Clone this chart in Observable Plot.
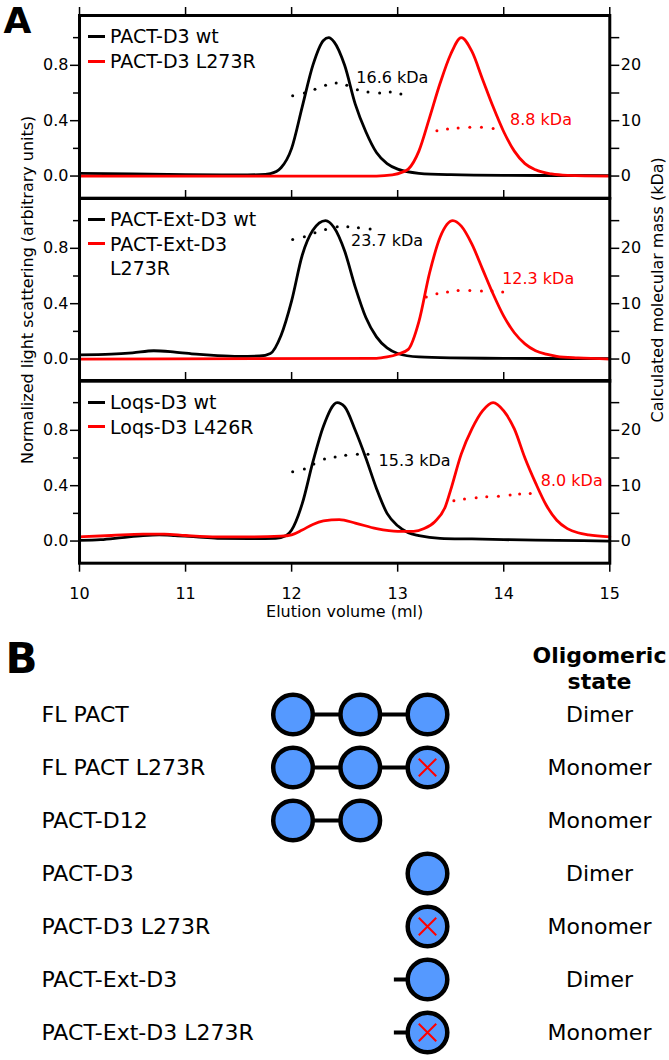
<!DOCTYPE html>
<html><head><meta charset="utf-8">
<script src="https://cdn.jsdelivr.net/npm/d3@7"></script>
<script src="https://cdn.jsdelivr.net/npm/@observablehq/plot@0.6"></script>
<style>
body{margin:0;background:#fff;}
#fig{position:relative;width:669px;height:1060px;overflow:hidden;font-family:"DejaVu Sans",sans-serif;background:#fff;}
#fig svg{position:absolute;left:0;}
.legend{position:absolute;left:88px;font-size:19px;line-height:24.5px;color:#000;}
.legend .row{display:flex;align-items:flex-start;white-space:pre-line;}
.legend .sw{display:inline-block;width:17px;height:3px;margin-top:10.75px;margin-right:5px;flex:none;}
</style>
</head><body>
<div id="fig"></div>
<script>
// ---------- Panel A data (elution volume ml, normalized light scattering) ----------
const pactD3wt = [[10,0.02],[10.5,0.015],[11,0.01],[11.5,0.008],[11.7,0.01],[11.8,0.018],[11.9,0.06],[12.0,0.2],[12.1,0.5],[12.2,0.8],[12.3,0.98],[12.35,1.0],[12.4,0.97],[12.5,0.8],[12.6,0.52],[12.7,0.32],[12.8,0.17],[12.9,0.09],[13.0,0.05],[13.2,0.02],[13.5,0.01],[14,0.005],[15,0.003]];
const pactD3mut = [[10,0],[12.8,0.0],[12.95,0.008],[13.05,0.03],[13.1,0.05],[13.2,0.18],[13.3,0.42],[13.4,0.67],[13.5,0.88],[13.6,1.0],[13.7,0.9],[13.8,0.7],[13.9,0.5],[14.0,0.32],[14.1,0.18],[14.2,0.09],[14.3,0.045],[14.45,0.015],[14.6,0.005],[15,0.0]];
const pactExtwt = [[10,0.03],[10.3,0.035],[10.5,0.045],[10.7,0.06],[10.9,0.05],[11.1,0.035],[11.3,0.025],[11.5,0.02],[11.7,0.022],[11.8,0.04],[11.9,0.17],[12.0,0.42],[12.1,0.75],[12.2,0.93],[12.32,1.0],[12.4,0.95],[12.5,0.78],[12.6,0.52],[12.7,0.3],[12.8,0.16],[12.9,0.08],[13.0,0.04],[13.2,0.015],[13.5,0.008],[14,0.005],[15,0.003]];
const pactExtmut = [[10,0],[12.8,0.005],[12.9,0.015],[13.0,0.035],[13.1,0.07],[13.2,0.27],[13.3,0.62],[13.4,0.88],[13.52,1.0],[13.6,0.96],[13.7,0.83],[13.8,0.65],[13.9,0.47],[14.0,0.31],[14.1,0.19],[14.2,0.11],[14.3,0.06],[14.4,0.035],[14.5,0.02],[14.7,0.008],[15,0.0]];
const loqsD3wt = [[10,0.005],[10.2,0.01],[10.4,0.025],[10.6,0.04],[10.75,0.045],[10.9,0.04],[11.1,0.03],[11.3,0.02],[11.6,0.018],[11.85,0.02],[11.95,0.04],[12.0,0.08],[12.1,0.27],[12.2,0.57],[12.3,0.83],[12.43,1.0],[12.5,0.97],[12.6,0.8],[12.7,0.6],[12.8,0.38],[12.9,0.2],[13.0,0.11],[13.1,0.06],[13.2,0.04],[13.4,0.02],[13.7,0.015],[14,0.01],[14.5,0.005],[15,0.0]];
const loqsD3mut = [[10,0.03],[10.3,0.04],[10.6,0.05],[10.8,0.05],[11.0,0.04],[11.3,0.03],[11.6,0.03],[11.9,0.035],[12.0,0.045],[12.1,0.08],[12.2,0.12],[12.3,0.145],[12.45,0.155],[12.6,0.13],[12.8,0.09],[13.0,0.07],[13.15,0.07],[13.25,0.09],[13.35,0.14],[13.45,0.25],[13.5,0.37],[13.6,0.63],[13.7,0.81],[13.8,0.94],[13.9,1.0],[14.0,0.94],[14.1,0.81],[14.2,0.6],[14.3,0.42],[14.4,0.26],[14.5,0.15],[14.6,0.09],[14.7,0.06],[14.8,0.045],[15.0,0.03]];

// calculated molecular mass (kDa) across peaks
const massPactD3wt = {x:[12.01,12.12,12.22,12.32,12.42,12.52,12.62,12.72,12.83,12.93,13.03], kda:[14.5,15.0,15.7,16.4,16.8,16.4,15.6,15.2,15.0,15.2,14.8]};
const massPactD3mut = {x:[13.37,13.47,13.57,13.68,13.79,13.90], kda:[8.2,8.5,8.7,8.8,8.8,8.6]};
const massPactExtwt = {x:[12.01,12.12,12.22,12.32,12.43,12.53,12.63,12.74], kda:[21.6,22.1,22.8,23.4,23.9,23.9,23.7,23.5]};
const massPactExtmut = {x:[13.27,13.37,13.47,13.57,13.68,13.79,13.89,13.99], kda:[11.2,11.8,12.1,12.4,12.4,12.3,12.3,12.1]};
const massLoqswt = {x:[12.01,12.12,12.21,12.31,12.41,12.51,12.62,12.72], kda:[12.5,13.0,13.9,14.8,15.2,15.5,15.7,15.7]};
const massLoqsmut = {x:[13.53,13.63,13.74,13.84,13.95,14.06,14.15,14.25], kda:[7.3,7.6,7.8,8.0,8.1,8.3,8.5,8.6]};

// mass labels (anchored in data coordinates: ml, kDa)
const notes1 = [{x:12.61,kda:17.8,label:"16.6 kDa",mut:false},{x:14.06,kda:10.2,label:"8.8 kDa",mut:true}];
const notes2 = [{x:12.56,kda:21.3,label:"23.7 kDa",mut:false},{x:13.985,kda:14.4,label:"12.3 kDa",mut:true}];
const notes3 = [{x:12.82,kda:14.45,label:"15.3 kDa",mut:false},{x:14.35,kda:10.8,label:"8.0 kDa",mut:true}];

const legend1 = ["PACT-D3 wt","PACT-D3 L273R"];
const legend2 = ["PACT-Ext-D3 wt","PACT-Ext-D3\nL273R"];
const legend3 = ["Loqs-D3 wt","Loqs-D3 L426R"];

const xTicks = [10,11,12,13,14,15];
const yMajor = [0,0.4,0.8];
const yMinor = [0.2,0.6,1.0];
const KDA_PER_UNIT = 25; // right axis: 10 kDa == 0.4 normalized

// ---------- Panel B data ----------
const constructs = ["FL PACT","FL PACT L273R","PACT-D12","PACT-D3","PACT-D3 L273R","PACT-Ext-D3","PACT-Ext-D3 L273R"];
const states = ["Dimer","Monomer","Monomer","Dimer","Monomer","Dimer","Monomer"];
const domainSets = [[1,2,3],[1,2,3],[1,2],[3],[3],[3],[3]];
const mutatedD3 = [false,true,false,false,true,false,true];
const hasExt = [false,false,false,false,false,true,true];
const EXT_START = 2.5;

const fig = document.getElementById("fig");
const H = 182.7, MT = 15, LEFT = 79, RIGHT = 609.3;

function toPts(arr){ return arr.map(([x,y])=>({x,y})); }
function massPts(m){ return m.x.map((x,i)=>({x, kda:m.kda[i]})); }

function panel(i, black, red, mBlack, mRed, notes, last){
  const MB = last ? 70 : 15;
  const marks = [
    Plot.line(toPts(black), {x:"x", y:"y", stroke:"black", strokeWidth:2.8, curve:"monotone-x"}),
    Plot.line(toPts(red), {x:"x", y:"y", stroke:"red", strokeWidth:2.8, curve:"monotone-x"}),
    Plot.dot(massPts(mBlack), {x:"x", y:d=>d.kda/KDA_PER_UNIT, r:1.5, fill:"black", stroke:null}),
    Plot.dot(massPts(mRed), {x:"x", y:d=>d.kda/KDA_PER_UNIT, r:1.5, fill:"red", stroke:null}),
    Plot.text(notes, {x:"x", y:d=>d.kda/KDA_PER_UNIT, text:"label", fill:d=>d.mut?"red":"black", textAnchor:"start", fontSize:16}),
    Plot.frame({stroke:"black", strokeWidth:3}),
    Plot.axisX(xTicks, {anchor:"top", tickSize:9, tickFormat:()=>"", label:null, strokeWidth:1.5}),
    Plot.axisY(yMajor, {anchor:"left", tickSize:9, tickPadding:2, tickFormat:d3.format(".1f"), label:null, strokeWidth:1.5, fontSize:16}),
    Plot.axisY(yMinor, {anchor:"left", tickSize:6, tickFormat:()=>"", label:null, strokeWidth:1.5}),
    Plot.axisY(yMajor, {anchor:"right", tickSize:9, tickPadding:2, tickFormat:d=>String(Math.round(d*KDA_PER_UNIT)), label:null, strokeWidth:1.5, fontSize:16}),
    Plot.axisY(yMinor, {anchor:"right", tickSize:9, tickFormat:()=>"", label:null, strokeWidth:1.5})
  ];
  if (last) {
    marks.push(Plot.axisX(xTicks, {anchor:"bottom", tickSize:9, tickPadding:15, tickFormat:d3.format("d"), label:null, strokeWidth:1.5, fontSize:16}));
    marks.push(Plot.text(["Elution volume (ml)"], {text:d=>d, frameAnchor:"bottom", dy:49, textAnchor:"middle", lineAnchor:"middle", fontSize:16}));
  }
  if (i === 0) {
    marks.push(Plot.text(["A"], {text:d=>d, frameAnchor:"top-left", dx:3-LEFT, dy:20.5-MT, textAnchor:"start", lineAnchor:"middle", fontWeight:"bold", fontSize:36}));
  }
  if (i === 1) {
    marks.push(Plot.text(["Normalized light scattering (arbitrary units)"], {text:d=>d, frameAnchor:"left", dx:-52, rotate:-90, textAnchor:"middle", lineAnchor:"middle", fontSize:16}));
    marks.push(Plot.text(["Calculated molecular mass (kDa)"], {text:d=>d, frameAnchor:"right", dx:48, rotate:-90, textAnchor:"middle", lineAnchor:"middle", fontSize:16}));
  }
  const svg = Plot.plot({
    width:669, height:MT+H+MB,
    marginLeft:LEFT, marginRight:669-RIGHT, marginTop:MT, marginBottom:MB,
    x:{domain:[10,15]}, y:{domain:[-0.16,1.16]},
    style:{background:"transparent", overflow:"visible", fontFamily:"DejaVu Sans", fontSize:"16px", color:"black"},
    marks
  });
  svg.style.top = (i*H) + "px";
  fig.appendChild(svg);
}

function legend(labels, topPx){
  const div = document.createElement("div");
  div.className = "legend";
  div.style.top = topPx + "px";
  labels.forEach((t,k)=>{
    const row = document.createElement("div");
    row.className = "row";
    const sw = document.createElement("span");
    sw.className = "sw";
    sw.style.background = k === 0 ? "black" : "red";
    const tx = document.createElement("span");
    tx.textContent = t;
    row.appendChild(sw); row.appendChild(tx);
    div.appendChild(row);
  });
  fig.appendChild(div);
}

panel(0, pactD3wt, pactD3mut, massPactD3wt, massPactD3mut, notes1, false);
panel(1, pactExtwt, pactExtmut, massPactExtwt, massPactExtmut, notes2, false);
panel(2, loqsD3wt, loqsD3mut, massLoqswt, massLoqsmut, notes3, true);
legend(legend1, 24.45);
legend(legend2, 207);
legend(legend3, 390);

// ---------- Panel B ----------
const HB = 420;
const rows = constructs.map((name,i)=>({name, state:states[i]}));
const domainDots = constructs.flatMap((name,i)=>domainSets[i].map(d=>({name, d})));
const links = constructs.flatMap((name,i)=>{
  const ds = domainSets[i], out = [];
  for (let k=0;k<ds.length-1;k++) out.push({name, from:ds[k], to:ds[k+1]});
  if (hasExt[i]) out.push({name, from:EXT_START, to:ds[0]});
  return out;
});
const muts = constructs.filter((n,i)=>mutatedD3[i]).map(name=>({name, d:3}));

const svgB = Plot.plot({
  width:669, height:HB, margin:0,
  x:{domain:[1,3], range:[292.5,427], axis:null},
  y:{type:"point", domain:constructs, range:[73.3,393.3], padding:0, axis:null},
  style:{background:"transparent", overflow:"visible", fontFamily:"DejaVu Sans", fontSize:"22px", color:"black"},
  marks:[
    Plot.link(links, {x1:"from", x2:"to", y1:"name", y2:"name", stroke:"black", strokeWidth:4}),
    Plot.dot(domainDots, {x:"d", y:"name", r:19.8, fill:"#5599ff", stroke:"black", strokeWidth:4.5}),
    Plot.dot(muts, {x:"d", y:"name", symbol:"times", r:8, stroke:"red", strokeWidth:2}),
    Plot.text(rows, {y:"name", text:"name", frameAnchor:"left", dx:41, textAnchor:"start", lineAnchor:"middle", fontSize:22}),
    Plot.text(rows, {y:"name", text:"state", frameAnchor:"left", dx:599, textAnchor:"middle", lineAnchor:"middle", fontSize:22}),
    Plot.text(["Oligomeric\nstate"], {text:d=>d, frameAnchor:"top-left", dx:599, dy:3.5, lineAnchor:"top", textAnchor:"middle", fontWeight:"bold", fontSize:22, lineHeight:1.2}),
    Plot.text(["B"], {text:d=>d, frameAnchor:"top-left", dx:5, dy:19, textAnchor:"start", lineAnchor:"middle", fontWeight:"bold", fontSize:42})
  ]
});
svgB.style.top = "640px";
fig.appendChild(svgB);
</script>
</body></html>
